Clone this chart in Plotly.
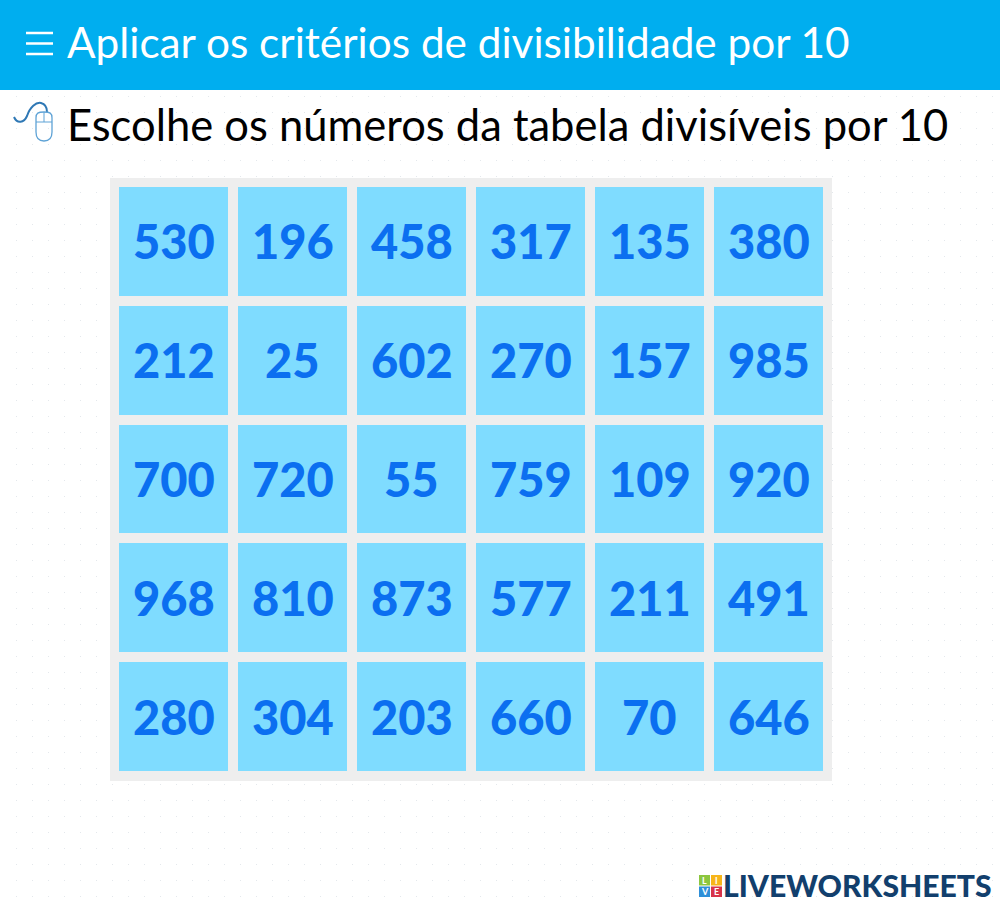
import plotly.graph_objects as go

# --- table contents ---
rows = [
    [530, 196, 458, 317, 135, 380],
    [212, 25, 602, 270, 157, 985],
    [700, 720, 55, 759, 109, 920],
    [968, 810, 873, 577, 211, 491],
    [280, 304, 203, 660, 70, 646],
]
col_ids = [0, 1, 2, 3, 4, 5]
row_ids = [0, 1, 2, 3, 4]

title_text = "Aplicar os critérios de divisibilidade por 10"
prompt_text = "Escolhe os números da tabela divisíveis por 10"
logo_text = "LIVEWORKSHEETS"

W, H = 1000, 906

fig = go.Figure()

# number grid, heatmap gaps give the separated tiles
fig.add_trace(go.Heatmap(
    z=[[1] * len(col_ids) for _ in row_ids],
    x=col_ids,
    y=row_ids,
    colorscale=[[0, "#7fdcff"], [1, "#7fdcff"]],
    showscale=False,
    xgap=10,
    ygap=10,
    hoverinfo="skip",
    xaxis="x2",
    yaxis="y2",
))

# panel behind the tiles, header band, icons (page pixels on x/y)
shapes = [
    dict(type="rect", x0=110, x1=832, y0=178, y1=781, fillcolor="#eeeeee", line_width=0, layer="between"),
    dict(type="rect", x0=0, x1=W, y0=0, y1=90, fillcolor="#00aeef", line_width=0, layer="between"),
]
for y in [33, 43.5, 54]:
    shapes.append(dict(type="line", x0=26, x1=53, y0=y, y1=y, line=dict(color="white", width=2.5)))

# mouse icon
shapes += [
    dict(type="path", path="M 14 117 C 17 124, 24 123, 27 116 C 30 107, 36 102, 41 103 C 45 104, 47 108, 47 112",
         line=dict(color="#2f78b5", width=2)),
    dict(type="path", path="M 36 118 C 36 113, 38 112, 44 112 C 50 112, 52 113, 52 118 L 52 132 C 52 138, 49 141, 44 141 C 39 141, 36 138, 36 132 Z",
         line=dict(color="#5fa3d6", width=1.3)),
    dict(type="line", x0=36, x1=52, y0=122, y1=122, line=dict(color="#5fa3d6", width=1)),
    dict(type="line", x0=44, x1=44, y0=112, y1=122, line=dict(color="#5fa3d6", width=1)),
]

# logo squares
logo_tiles = [
    (699, 875, "#8cc63f", "L"), (711, 875, "#f7b519", "I"),
    (699, 886.5, "#2f8fd8", "V"), (711, 886.5, "#d8344a", "E"),
]
for x, y, c, _ in logo_tiles:
    shapes.append(dict(type="rect", x0=x, x1=x + 11, y0=y, y1=y + 10.5, fillcolor=c, line_width=0))

annotations = [
    dict(x=65, y=41.5, text=title_text, showarrow=False, xanchor="left", yanchor="middle",
         font=dict(family="Lato", size=42.3, color="white")),
    dict(x=65, y=124, text=prompt_text, showarrow=False, xanchor="left", yanchor="middle",
         font=dict(family="Lato", size=43.5, color="black")),
    dict(x=721, y=885, text=logo_text, showarrow=False, xanchor="left", yanchor="middle",
         font=dict(family="Lato", size=30.1, color="#123f6d", weight=900)),
]
for x, y, c, t in logo_tiles:
    annotations.append(dict(x=x + 5.5, y=y + 5.25, text=t, showarrow=False,
                            font=dict(family="Lato", size=9, color="white", weight="bold")))

# numbers on the tiles
for i in row_ids:
    for j in col_ids:
        annotations.append(dict(x=j, y=i, xref="x2", yref="y2", text=str(rows[i][j]), showarrow=False,
                                font=dict(family="Lato", size=47, color="#0b6ff0", weight=900)))

fig.update_layout(
    width=W,
    height=H,
    margin=dict(l=0, r=0, t=0, b=0),
    paper_bgcolor="white",
    plot_bgcolor="rgba(0,0,0,0)",
    shapes=shapes,
    annotations=annotations,
    showlegend=False,
    # page axes, vertical dashed gridlines read as the faint dot pattern
    xaxis=dict(domain=[0, 1], range=[0, W], visible=True, showticklabels=False, ticks="", zeroline=False,
               showline=False, showgrid=True, dtick=16, gridcolor="#e4e8ec", gridwidth=1,
               griddash="1px,15px"),
    yaxis=dict(domain=[0, 1], range=[H, 0], showticklabels=False, ticks="", zeroline=False,
               showline=False, showgrid=False),
    # tile grid axes, sized to the block of tiles
    xaxis2=dict(domain=[114 / W, 828 / W], range=[-0.5, 5.5], anchor="y2", visible=False),
    yaxis2=dict(domain=[1 - 776 / H, 1 - 182 / H], range=[4.5, -0.5], anchor="x2", visible=False),
)

fig.add_trace(go.Scatter(x=[0], y=[0], mode="markers", marker=dict(opacity=0), hoverinfo="skip", xaxis="x", yaxis="y"))

fig.write_html("out.html", config={"displayModeBar": False}, post_script="document.body.style.margin='0';")
